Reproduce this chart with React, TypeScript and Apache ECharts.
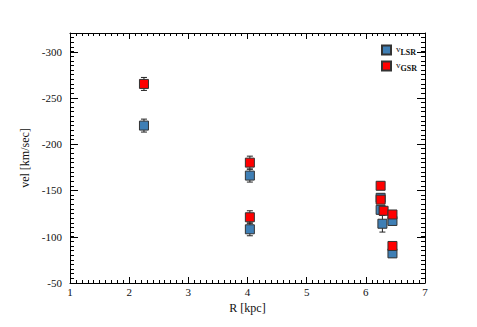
import React, { useEffect, useRef } from "react";
import * as echarts from "echarts";

// R [kpc], velocity [km/sec], error
const lsrR = [2.25, 4.04, 4.04, 6.25, 6.25, 6.28, 6.45, 6.45];
const lsrVel = [-220, -166, -108, -142, -129, -114, -117, -82];
const lsrErr = [7, 7, 7, 4, 4, 9, 4, 4];

const gsrR = [2.25, 4.04, 4.04, 6.25, 6.25, 6.3, 6.45, 6.45];
const gsrVel = [-265, -180, -121, -155, -140, -128, -124, -90];
const gsrErr = [7, 7, 7, 4, 4, 4, 4, 4];

const yMajorTicks = [-300, -250, -200, -150, -100, -50];

const FONT = "'Liberation Serif', 'DejaVu Serif', serif";

const ls = () => ({ color: "#000", width: 1 });

function xAxisDef(pos: "bottom" | "top") {
  return {
    type: "value",
    position: pos,
    min: 1,
    max: 7,
    interval: 1,
    splitLine: { show: false },
    axisLine: { show: true, lineStyle: ls() },
    axisTick: { show: true, inside: true, length: 6, lineStyle: ls() },
    minorTick: { show: true, splitNumber: 10, length: 3, lineStyle: ls() },
    minorSplitLine: { show: false },
  };
}

function yAxisDef(pos: "left" | "right") {
  return {
    type: "value",
    position: pos,
    inverse: true,
    min: -320,
    max: -50,
    interval: 5,
    splitLine: { show: false },
    axisLine: { show: true, lineStyle: ls() },
    axisTick: { show: true, inside: true, length: 4, lineStyle: ls() },
    axisLabel: { show: false },
  } as any;
}

export default function App() {
  const ref = useRef<HTMLDivElement>(null);
  useEffect(() => {
    if (!ref.current) return;
    const chart = echarts.init(ref.current, null, { renderer: "svg" });
    const lsr = lsrR.map((r, i) => [r, lsrVel[i]]);
    const gsr = gsrR.map((r, i) => [r, gsrVel[i]]);
    const errs = [
      ...lsrR.map((r, i) => [r, lsrVel[i], lsrErr[i]]),
      ...gsrR.map((r, i) => [r, gsrVel[i], gsrErr[i]]),
    ];
    const sqStyle = (color: string) => ({
      color,
      borderColor: "#333",
      borderWidth: 1,
      opacity: 1,
    });
    const xb = xAxisDef("bottom") as any;
    xb.name = "R [kpc]";
    xb.nameLocation = "middle";
    xb.nameGap = 15;
    xb.nameTextStyle = { fontFamily: FONT, fontSize: 12, color: "#111" };
    xb.axisLabel = { fontFamily: FONT, fontSize: 11, color: "#111", margin: 3 };
    const xt = xAxisDef("top") as any;
    xt.axisLabel = { show: false };

    const yl = yAxisDef("left");
    yl.name = "vel [km/sec]";
    yl.nameLocation = "middle";
    yl.nameGap = 16;
    yl.nameTextStyle = { fontFamily: FONT, fontSize: 12, color: "#111" };
    yl.axisLabel = {
      interval: 0,
      fontFamily: FONT,
      fontSize: 11,
      color: "#111",
      margin: 8,
      formatter: (v: number) => (v % 50 === 0 ? String(v) : ""),
    };

    chart.setOption({
      animation: false,
      grid: { left: 62, right: 60, top: 25, bottom: 52 },
      legend: {
        orient: "vertical",
        left: 368,
        top: 31,
        itemWidth: 9,
        itemHeight: 9,
        itemGap: 4,
        data: ["vLSR", "vGSR"],
        formatter: (name: string) => "{a|v}{b|" + name.slice(1) + "}",
        textStyle: {
          fontFamily: FONT,
          color: "#111",
          rich: {
            a: { fontSize: 9, fontFamily: FONT, lineHeight: 12, verticalAlign: "top", color: "#111" },
            b: { fontSize: 8, fontFamily: FONT, fontWeight: "bold", lineHeight: 12, verticalAlign: "bottom", color: "#111" },
          },
        },
      },
      xAxis: [xb, xt],
      yAxis: [yl, yAxisDef("right")],
      series: [
        {
          type: "custom",
          name: "majorTicks",
          xAxisIndex: 0,
          yAxisIndex: 0,
          silent: true,
          z: 1,
          data: yMajorTicks.map((v) => [1, v]),
          renderItem: (params: any, api: any) => {
            const p = api.coord([1, api.value(1)]);
            const cs = params.coordSys;
            const style = { stroke: "#000", lineWidth: 1 };
            const y = Math.round(p[1]) + 0.5;
            return {
              type: "group",
              children: [
                { type: "line", shape: { x1: cs.x, y1: y, x2: cs.x + 8, y2: y }, style },
                { type: "line", shape: { x1: cs.x + cs.width - 8, y1: y, x2: cs.x + cs.width, y2: y }, style },
              ],
            };
          },
        },
        {
          type: "custom",
          name: "err",
          xAxisIndex: 0,
          yAxisIndex: 0,
          z: 1,
          data: errs,
          renderItem: (params: any, api: any) => {
            const x = api.value(0);
            const y = api.value(1);
            const e = api.value(2);
            const top = api.coord([x, y - e]);
            const bot = api.coord([x, y + e]);
            const hw = 3;
            const style = { stroke: "#222", lineWidth: 1 };
            return {
              type: "group",
              children: [
                { type: "line", shape: { x1: top[0], y1: top[1], x2: bot[0], y2: bot[1] }, style },
                { type: "line", shape: { x1: top[0] - hw, y1: top[1], x2: top[0] + hw, y2: top[1] }, style },
                { type: "line", shape: { x1: bot[0] - hw, y1: bot[1], x2: bot[0] + hw, y2: bot[1] }, style },
              ],
            };
          },
        },
        {
          type: "scatter",
          name: "vLSR",
          symbol: "rect",
          symbolSize: 9,
          z: 2,
          data: lsr,
          itemStyle: sqStyle("#3f7fb5"),
        },
        {
          type: "scatter",
          name: "vGSR",
          symbol: "rect",
          symbolSize: 9,
          z: 3,
          data: gsr,
          itemStyle: sqStyle("#ff0000"),
        },
      ],
    });
    return () => chart.dispose();
  }, []);
  return <div ref={ref} style={{ width: 477, height: 327 }} />;
}
